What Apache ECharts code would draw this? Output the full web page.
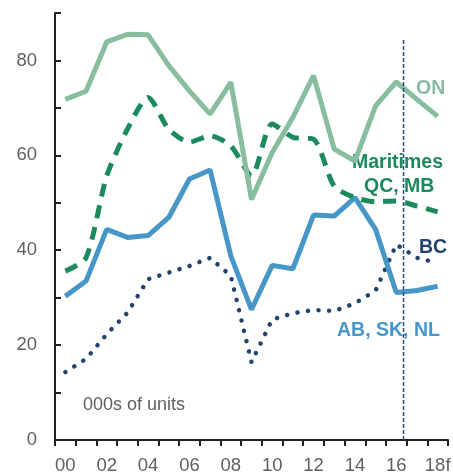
<!DOCTYPE html>
<html><head><meta charset="utf-8">
<script src="https://cdn.jsdelivr.net/npm/echarts@6/dist/echarts.min.js"></script>
<style>html,body{margin:0;padding:0;background:#fff}#c{width:453px;height:476px}</style>
</head><body><div id="c"></div>
<script>
const years = ['00','01','02','03','04','05','06','07','08','09','10','11','12','13','14','15','16','17','18f'];
const onValues = [71.8,73.5,83.9,85.5,85.4,78.9,73.6,68.7,75.4,50.7,60.6,68.0,76.8,61.3,58.8,70.4,75.5,71.8,68.2];
const maritimesValues = [35.6,38.4,55.6,65.5,72.2,65.5,62.8,64.1,62.0,55.7,66.6,63.8,63.4,53.5,51.1,50.2,50.4,49.3,48.1];
const abValues = [30.3,33.5,44.4,42.7,43.1,46.9,55.0,56.9,38.8,27.5,36.8,36.1,47.4,47.2,51.1,44.4,31.1,31.5,32.4];
const bcValues = [14.3,17.1,22.3,26.8,33.9,35.3,36.7,38.4,34.6,16.4,25.4,26.7,27.4,27.2,28.8,31.5,41.2,38.4,37.3];
const forecastLineX = 16.35;
const forecastLineTop = 84.4;

const font = 'Liberation Sans, Arial, sans-serif';
const chart = echarts.init(document.getElementById('c'));
chart.setOption({
  animation: false,
  grid: {left: 55, right: 5, top: 13, bottom: 36, containLabel: false, outerBoundsMode: 'none'},
  xAxis: [{
    type: 'category', data: years, boundaryGap: true,
    axisLine: {onZero: false, lineStyle: {color: '#231f20', width: 2}},
    axisTick: {show: true, length: 6, lineStyle: {color: '#231f20', width: 2}, interval: 0},
    axisLabel: {interval: 1, color: '#606060', fontSize: 18.5, fontFamily: font, margin: 16}
  }, {
    type: 'value', min: -0.5, max: 18.5, show: false
  }],
  yAxis: {
    type: 'value', min: 0, max: 90, interval: 10,
    splitLine: {show: false},
    axisLine: {show: true, onZero: false, lineStyle: {color: '#231f20', width: 2}},
    axisTick: {show: true, inside: true, length: 6, lineStyle: {color: '#231f20', width: 2}},
    axisLabel: {color: '#606060', fontSize: 18.5, fontFamily: font, margin: 18,
      formatter: v => (v % 20 === 0 ? String(v) : '')}
  },
  series: [
    {type: 'line', data: bcValues, symbol: 'none', z: 2,
      lineStyle: {color: '#23436f', width: 4.5, type: [0.1, 10.5], cap: 'round'}},
    {type: 'line', data: abValues, symbol: 'none', z: 3,
      lineStyle: {color: '#4697c8', width: 5}},
    {type: 'line', data: maritimesValues, symbol: 'none', smooth: 0.25, z: 4,
      lineStyle: {color: '#1b8a5c', width: 5, type: [13, 9]}},
    {type: 'line', data: onValues, symbol: 'none', z: 5,
      lineStyle: {color: '#88bda0', width: 5}},
    {type: 'line', xAxisIndex: 1, data: [[forecastLineX, 0], [forecastLineX, forecastLineTop]],
      symbol: 'none', z: 6, lineStyle: {color: '#2b4b7e', width: 1.5, type: [4, 2]}}
  ],
  graphic: [
    {type: 'text', left: 416, top: 79, style: {text: 'ON', fill: '#88bda0', font: 'bold 19.5px ' + font}},
    {type: 'text', left: 352, top: 153, style: {text: 'Maritimes', fill: '#1b8a5c', font: 'bold 19.5px ' + font}},
    {type: 'text', left: 364, top: 177, style: {text: 'QC, MB', fill: '#1b8a5c', font: 'bold 19.5px ' + font}},
    {type: 'text', left: 419, top: 238, style: {text: 'BC', fill: '#23436f', font: 'bold 19.5px ' + font}},
    {type: 'text', left: 337, top: 321, style: {text: 'AB, SK, NL', fill: '#4697c8', font: 'bold 19.5px ' + font}},
    {type: 'text', left: 83, top: 396, style: {text: '000s of units', fill: '#606060', font: '18px ' + font}}
  ]
});
</script></body></html>
